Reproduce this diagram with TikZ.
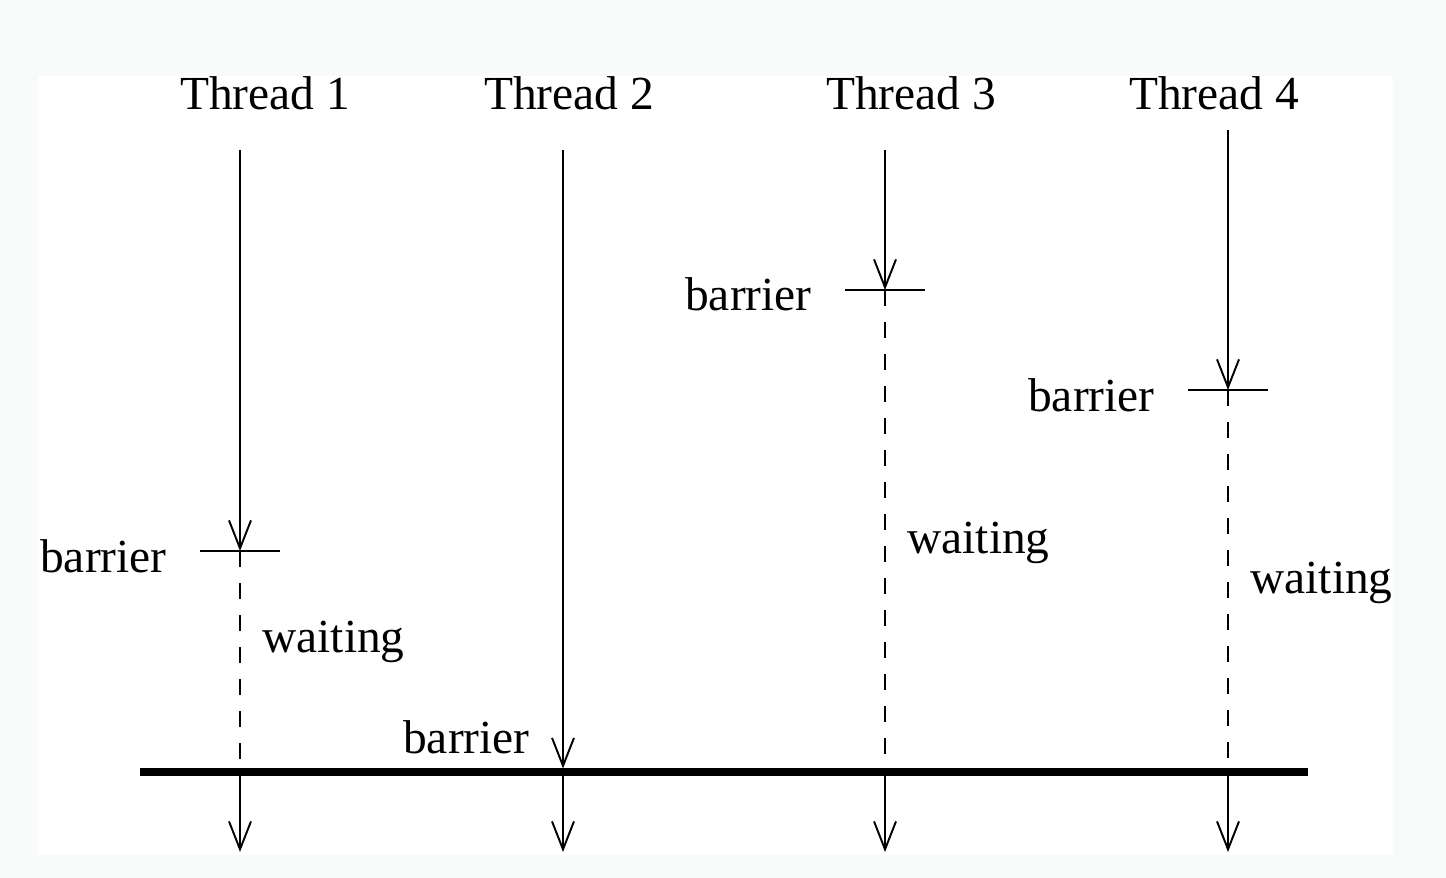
\documentclass[tikz,border=0pt]{standalone}
\usepackage{fontspec}
\setmainfont{Liberation Serif}
\usetikzlibrary{arrows.meta}
\definecolor{pagegray}{HTML}{F9FAFA}
\tikzset{
  flow/.style={line width=1.1pt,-{Straight Barb[length=0.56cm,width=0.44cm,line width=1.1pt]}},
  waitline/.style={line width=1.1pt,dash pattern=on 0.32cm off 0.32cm},
  barrierline/.style={line width=1.1pt},
  joinline/.style={line width=4pt},
  lbl/.style={inner sep=0pt,font=\fontsize{27}{32}\selectfont}
}
\newcommand{\thread}[4]{\node[lbl,anchor=base] (t#1) at (#3,110) {Thread #1};
  \coordinate (s#1) at (#2,#4); \coordinate (j#1) at (#2,772); \coordinate (e#1) at (#2,852);}
\newcommand{\barrier}[3]{\coordinate (b#1) at (#2,#3);
  \draw[barrierline] (b#1) ++(-40,0) -- ++(80,0);
  \node[lbl,anchor=base east] (bl#1) at (#2-73,#3+21) {barrier};}
\newcommand{\waiting}[3]{\node[lbl,anchor=base west] (w#1) at (#2+22,#3) {waiting};}

\begin{document}
\begin{tikzpicture}[x=0.02cm,y=-0.02cm]
        \fill[pagegray] (0,0) rectangle (1446,878);
        \fill[white] (38,76) rectangle (1393,855);
        \thread{1}{240}{265}{150}
        \thread{2}{563}{569}{150}
        \thread{3}{885}{911}{150}
        \thread{4}{1228}{1214}{130}
        \barrier{1}{240}{551}
        \barrier{3}{885}{290}
        \barrier{4}{1228}{390}
        \waiting{1}{240}{652}
        \waiting{3}{885}{553}
        \waiting{4}{1228}{593}
        \node[lbl,anchor=base east] (bl2) at (530,753) {barrier};
        \coordinate (jl) at (140,772);
        \coordinate (jr) at (1308,772);
        \draw[joinline] (jl) -- (jr);
        \draw[flow] (s1) -- (b1);
        \draw[flow] (s2) -- ([yshift=2pt]j2);
        \draw[flow] (s3) -- (b3);
        \draw[flow] (s4) -- (b4);
        \draw[waitline] (b1) -- (j1);
        \draw[waitline] (b3) -- (j3);
        \draw[waitline] (b4) -- (j4);
        \draw[flow] (j1) -- (e1);
        \draw[flow] (j2) -- (e2);
        \draw[flow] (j3) -- (e3);
        \draw[flow] (j4) -- (e4);
    \end{tikzpicture}
\end{document}
